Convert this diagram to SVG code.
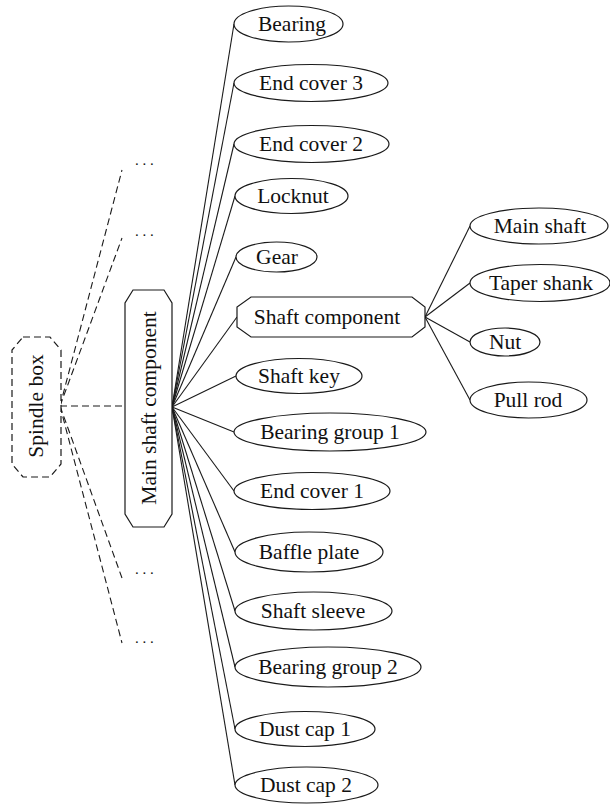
<svg xmlns="http://www.w3.org/2000/svg" width="610" height="804" viewBox="0 0 610 804">
<style>
  .n { fill: #ffffff; stroke: #1a1a1a; stroke-width: 1.2; }
  .d { fill: #ffffff; stroke: #1a1a1a; stroke-width: 1.2; stroke-dasharray: 7 4; }
  .t { font-family: "Liberation Serif", "Times New Roman", serif; font-size: 21.5px; fill: #111111; text-anchor: middle; }
  .dots { font-family: "Liberation Serif", serif; font-size: 15px; fill: #111111; }
  .c line { stroke: #1a1a1a; stroke-width: 1.1; }
  .c .dash { stroke-dasharray: 7 4; }
</style>
<rect width="610" height="804" fill="#ffffff"/>
<g class="c" id="connectors">
  <line class="dash" x1="60" y1="406" x2="125" y2="406"/>
  <line class="dash" x1="60" y1="406" x2="122" y2="170"/>
  <line class="dash" x1="60" y1="406" x2="122" y2="238"/>
  <line class="dash" x1="60" y1="406" x2="122" y2="578"/>
  <line class="dash" x1="60" y1="406" x2="122" y2="643"/>
  <line x1="172" y1="407" x2="234" y2="24"/>
  <line x1="172" y1="407" x2="234" y2="83"/>
  <line x1="172" y1="407" x2="234" y2="144"/>
  <line x1="172" y1="407" x2="235" y2="196"/>
  <line x1="172" y1="407" x2="236" y2="257"/>
  <line x1="172" y1="407" x2="237" y2="317"/>
  <line x1="172" y1="407" x2="236" y2="376"/>
  <line x1="172" y1="407" x2="234" y2="432"/>
  <line x1="172" y1="407" x2="234" y2="491"/>
  <line x1="172" y1="407" x2="235" y2="552"/>
  <line x1="172" y1="407" x2="235" y2="611"/>
  <line x1="172" y1="407" x2="235" y2="667"/>
  <line x1="172" y1="407" x2="235" y2="729"/>
  <line x1="172" y1="407" x2="235" y2="785"/>
  <line x1="425" y1="317" x2="470" y2="226"/>
  <line x1="425" y1="317" x2="470" y2="283"/>
  <line x1="425" y1="317" x2="470" y2="342"/>
  <line x1="425" y1="317" x2="470" y2="400"/>
</g>
<text class="dots" x="135" y="165">. . .</text>
<text class="dots" x="135" y="236">. . .</text>
<text class="dots" x="135" y="574">. . .</text>
<text class="dots" x="135" y="643">. . .</text>
<g id="spindle-box">
  <polygon class="d" points="23,337 50,337 61,350 61,464 50,477 23,477 12,464 12,350"/>
  <text class="t" transform="translate(43,406) rotate(-90)">Spindle box</text>
</g>
<g id="main-shaft-component">
  <polygon class="n" points="133,290 164,290 172,303 172,514 164,527 133,527 125,514 125,303"/>
  <text class="t" transform="translate(156,408) rotate(-90)">Main shaft component</text>
</g>
<g id="bearing"><ellipse class="n" cx="288.5" cy="24" rx="54.5" ry="18"/><text class="t" x="292" y="31">Bearing</text></g>
<g id="end-cover-3"><ellipse class="n" cx="311" cy="83" rx="77" ry="18.5"/><text class="t" x="311" y="90">End cover 3</text></g>
<g id="end-cover-2"><ellipse class="n" cx="311.5" cy="144" rx="77.5" ry="18.5"/><text class="t" x="311" y="151">End cover 2</text></g>
<g id="locknut"><ellipse class="n" cx="291.5" cy="196" rx="56.5" ry="17.5"/><text class="t" x="293" y="203">Locknut</text></g>
<g id="gear"><ellipse class="n" cx="276.5" cy="257" rx="40.5" ry="15"/><text class="t" x="277" y="264">Gear</text></g>
<g id="shaft-component">
  <polygon class="n" points="251,297 412,297 425,307 425,327 412,337 251,337 237,327 237,307"/>
  <text class="t" x="327" y="324">Shaft component</text>
</g>
<g id="shaft-key"><ellipse class="n" cx="299" cy="376" rx="63" ry="17.5"/><text class="t" x="299" y="383">Shaft key</text></g>
<g id="bearing-group-1"><ellipse class="n" cx="330" cy="432" rx="96" ry="19"/><text class="t" x="330" y="439">Bearing group 1</text></g>
<g id="end-cover-1"><ellipse class="n" cx="312" cy="491" rx="78" ry="18.5"/><text class="t" x="312" y="498">End cover 1</text></g>
<g id="baffle-plate"><ellipse class="n" cx="309" cy="552" rx="74" ry="20"/><text class="t" x="309" y="559">Baffle plate</text></g>
<g id="shaft-sleeve"><ellipse class="n" cx="313.5" cy="611" rx="78.5" ry="19"/><text class="t" x="313" y="618">Shaft sleeve</text></g>
<g id="bearing-group-2"><ellipse class="n" cx="328" cy="667" rx="93" ry="20"/><text class="t" x="328" y="674">Bearing group 2</text></g>
<g id="dust-cap-1"><ellipse class="n" cx="305" cy="729" rx="70" ry="17.5"/><text class="t" x="305" y="736">Dust cap 1</text></g>
<g id="dust-cap-2"><ellipse class="n" cx="306.5" cy="785" rx="71.5" ry="18"/><text class="t" x="306" y="792">Dust cap 2</text></g>
<g id="main-shaft"><ellipse class="n" cx="539" cy="226" rx="69" ry="18"/><text class="t" x="540" y="233">Main shaft</text></g>
<g id="taper-shank"><ellipse class="n" cx="540" cy="283" rx="70" ry="18.5"/><text class="t" x="541" y="290">Taper shank</text></g>
<g id="nut"><ellipse class="n" cx="505" cy="342" rx="35" ry="14"/><text class="t" x="505" y="349">Nut</text></g>
<g id="pull-rod"><ellipse class="n" cx="528.5" cy="400" rx="58.5" ry="18"/><text class="t" x="528" y="407">Pull rod</text></g>
</svg>
